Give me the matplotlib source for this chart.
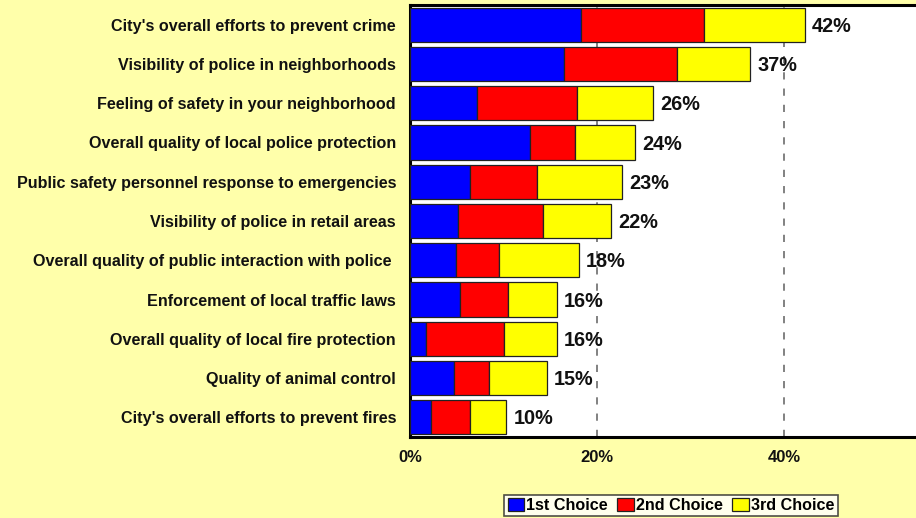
import matplotlib
matplotlib.use("Agg")
import matplotlib.pyplot as plt
import numpy as np

plt.rcParams['font.family'] = ['Liberation Sans', 'DejaVu Sans']

categories = [
    "City's overall efforts to prevent crime",
    "Visibility of police in neighborhoods",
    "Feeling of safety in your neighborhood",
    "Overall quality of local police protection",
    "Public safety personnel response to emergencies",
    "Visibility of police in retail areas",
    "Overall quality of public interaction with police ",
    "Enforcement of local traffic laws",
    "Overall quality of local fire protection",
    "Quality of animal control",
    "City's overall efforts to prevent fires",
]
first_choice = [18.3, 16.5, 7.2, 12.8, 6.4, 5.1, 4.9, 5.4, 1.7, 4.7, 2.2]
second_choice = [13.1, 12.1, 10.7, 4.9, 7.2, 9.1, 4.6, 5.1, 8.3, 3.7, 4.2]
third_choice = [10.8, 7.8, 8.1, 6.4, 9.1, 7.3, 8.6, 5.2, 5.7, 6.2, 3.9]
total_labels = ["42%", "37%", "26%", "24%", "23%", "22%", "18%", "16%", "16%", "15%", "10%"]

series = [
    ("1st Choice", first_choice, "#0000FF"),
    ("2nd Choice", second_choice, "#FF0000"),
    ("3rd Choice", third_choice, "#FFFF00"),
]

bg = "#FFFFAA"
fig = plt.figure(figsize=(9.16, 5.18), dpi=100, facecolor=bg)
ax = fig.add_axes([410 / 916, 81 / 518, 1 - 410 / 916, 432 / 518])
ax.set_facecolor("white")

y = np.arange(len(categories))
left = np.zeros(len(categories))
for name, vals, color in series:
    vals = np.array(vals)
    ax.barh(y, vals, left=left, height=0.87, color=color,
            edgecolor="#222222", linewidth=0.9, label=name, zorder=3)
    left = left + vals

for yi, tot, lab in zip(y, left, total_labels):
    ax.text(tot + 0.75, yi + 0.04, lab, va="center", ha="left",
            fontsize=14.3, fontweight="bold", color="#111111", zorder=4)

ax.set_xlim(0, (916 - 410) / 9.35)
ax.set_ylim(len(categories) - 0.5, -0.5)
ax.set_yticks(y)
ax.set_yticklabels(categories, fontsize=11.6, fontweight="bold", color="#111111")
ax.set_xticks([0, 20, 40])
ax.set_xticklabels(["0%", "20%", "40%"], fontsize=12, fontweight="bold", color="#111111")
ax.tick_params(axis="y", length=0, pad=10)
ax.tick_params(axis="x", length=0, pad=9)

for x in [20, 40]:
    ax.axvline(x, color="#777777", linewidth=1.3, linestyle=(0, (4, 5)), zorder=1)

for side in ["left", "bottom", "top"]:
    ax.spines[side].set_linewidth(2.2)
    ax.spines[side].set_color("black")
ax.spines["right"].set_visible(False)

leg = fig.legend(loc="lower center", bbox_to_anchor=(671 / 916, 0.0), ncol=3,
                 frameon=True, fancybox=False, edgecolor="#222222",
                 prop={"weight": "bold", "size": 11.6},
                 handlelength=1.0, handleheight=0.85, handletextpad=0.15,
                 columnspacing=0.6, borderpad=0.2, borderaxespad=0.1)
leg.get_frame().set_linewidth(1.2)
for h in leg.legend_handles:
    h.set_edgecolor("#222222")

fig.savefig("out.png", dpi=100, facecolor=bg)
